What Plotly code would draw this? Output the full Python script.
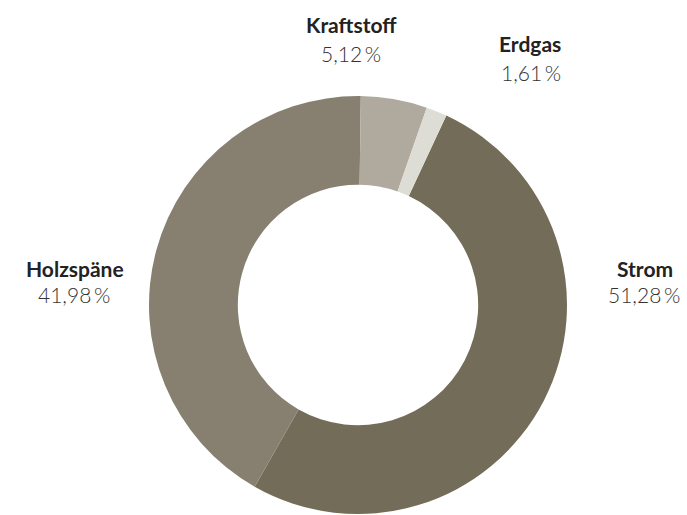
import plotly.graph_objects as go

categories = ["Strom", "Holzspäne", "Kraftstoff", "Erdgas"]
values = [51.28, 41.98, 5.12, 1.61]
colors = ["#736c58", "#878070", "#b0aa9e", "#dddcd5"]

# label anchor points (pixel centres in the 687x515 canvas) for name / percentage
label_pos = {
    "Strom": (645, 268, 644, 294),
    "Holzspäne": (75, 268, 74, 294),
    "Kraftstoff": (351, 25, 351, 54),
    "Erdgas": (530, 44, 531, 73),
}

W, H = 687, 515

fig = go.Figure(go.Pie(
    labels=categories,
    values=values,
    sort=False,
    direction="clockwise",
    rotation=25,
    hole=0.575,
    marker=dict(colors=colors, line=dict(width=0)),
    textinfo="none",
    hoverinfo="label+percent",
    showlegend=False,
    domain=dict(x=[149 / W, 567 / W], y=[1 / H, 419 / H]),
))

def fmt(v):
    return f"{v:.2f}".replace(".", ",") + "\u2009%"

annotations = []
for cat, val in zip(categories, values):
    nx, ny, px, py = label_pos[cat]
    annotations.append(dict(
        x=nx / W, y=1 - ny / H, xref="paper", yref="paper",
        text=f"<b>{cat}</b>", showarrow=False, xanchor="center", yanchor="middle",
        font=dict(family="Lato, Open Sans, sans-serif", size=21, color="#222222"),
    ))
    annotations.append(dict(
        x=px / W, y=1 - py / H, xref="paper", yref="paper",
        text=fmt(val), showarrow=False, xanchor="center", yanchor="middle",
        font=dict(family="Lato, Open Sans, sans-serif", size=21, color="#333333", weight=300),
    ))

fig.update_layout(
    width=W, height=H,
    margin=dict(l=0, r=0, t=0, b=0),
    paper_bgcolor="white",
    plot_bgcolor="white",
    annotations=annotations,
)

fig.write_html(
    "out.html",
    config={"displayModeBar": False},
    post_script="document.body.style.margin='0';document.body.style.overflow='hidden';",
)
